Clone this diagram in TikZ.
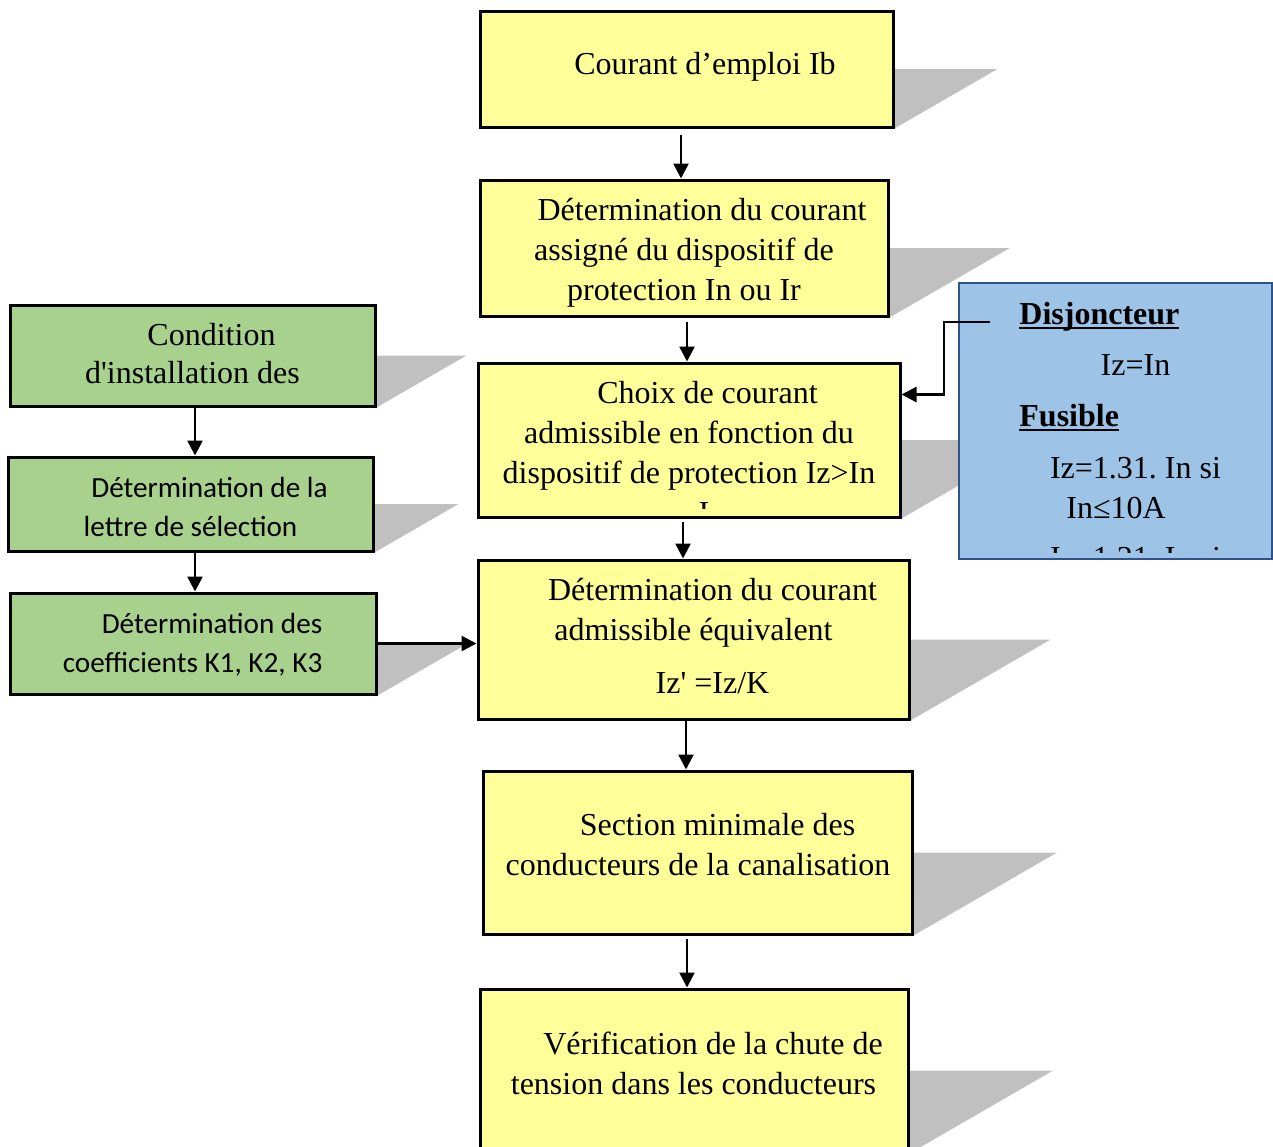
\documentclass[tikz,border=0pt]{standalone}
\usepackage{fontspec}
\setmainfont{Liberation Serif}
\newfontfamily\calibri{Carlito}
\usetikzlibrary{calc,backgrounds,arrows.meta}
\frenchspacing

\definecolor{boxyellow}{HTML}{FFFF99}
\definecolor{boxgreen}{HTML}{A9D18E}
\definecolor{boxblue}{HTML}{9DC3E6}
\definecolor{blueedge}{HTML}{2F528F}
\definecolor{shadowgray}{HTML}{C0C0C0}

\newcommand{\headul}[1]{\setbox0\hbox{#1}\rlap{\rule[-2.6pt]{\wd0}{1.1pt}}\box0}

\tikzset{
	flowbox/.style={draw, line width=1.5pt, inner sep=0pt},
	yellowbox/.style={flowbox, fill=boxyellow},
	greenbox/.style={flowbox, fill=boxgreen},
	txt/.style={align=center, inner sep=0pt, font=\fontsize{16pt}{20pt}\selectfont},
	sanstxt/.style={txt, font=\calibri\fontsize{14.6pt}{19.5pt}\selectfont},
	bluetxt/.style={inner sep=0pt, font=\fontsize{16pt}{20pt}\selectfont},
	arr/.style={line width=1.25pt, -{Triangle[length=7.5pt,width=7.5pt]}},
}

\begin{document}
\begin{tikzpicture}[x=0.5pt, y=-0.5pt]
		
		\useasboundingbox (0,0) rectangle (1273,1146);
		
		% Main chain
		\node [yellowbox,
		minimum width=206.5pt,
		minimum height=58pt] (b1) at (686.5,69) {};
		
		\node [yellowbox,
		minimum width=204pt,
		minimum height=68pt] (b2) at (684,248) {};
		
		\node [yellowbox,
		minimum width=211pt,
		minimum height=77pt] (b3) at (689,440) {};
		
		\node [yellowbox,
		minimum width=215.5pt,
		minimum height=79.5pt] (b4) at (693.5,639.5) {};
		
		\node [yellowbox,
		minimum width=214.5pt,
		minimum height=81.5pt] (b5) at (697.5,852.5) {};
		
		\node [yellowbox,
		minimum width=214pt,
		minimum height=81.5pt] (b6) at (694,1070.5) {};
		
		% Installation side
		\node [greenbox,
		minimum width=182.5pt,
		minimum height=50.5pt] (gA) at (192.5,355.5) {};
		
		\node [greenbox,
		minimum width=182.5pt,
		minimum height=47pt] (gB) at (190.5,504) {};
		
		\node [greenbox,
		minimum width=183pt,
		minimum height=50.5pt] (gC) at (193,643.5) {};
		
		% Protection device
		\node [draw=blueedge,
		line width=1.3pt,
		fill=boxblue,
		minimum width=156.5pt,
		minimum height=138pt] (dj) at (1115.5,421) {};
		
		% Shadows
		\begin{scope}[on background layer]
			\foreach \bx in {b1,b2,b3,b4,b5,b6,gA,gB,gC}
			\fill [shadowgray] let \p1=(\bx.east), \p2=(\bx.south east) in
			(\p1) -- (\x1+1.73*\y1-1.73*\y2, \y1) -- (\p2) -- cycle;
		\end{scope}
		
		% Texts
		\node [txt] (t1) at (705,66.5) {Courant d’emploi Ib};
		
		\node [txt] (t2) at (684,252.5) {\hspace*{18pt}Détermination du courant\\assigné du dispositif de\\protection In ou Ir};
		
		\begin{scope}
			\clip (b3.north west) rectangle ($(b3.south east)+(0,-10)$);
			\node [txt] (t3) at (689,452) {\hspace*{18.5pt}Choix de courant\\admissible en fonction du\\dispositif de protection Iz>In\\\hspace*{15pt}I};
		\end{scope}
		
		\node [txt] (t4) at (693.5,636) {\hspace*{19pt}Détermination du courant\\admissible équivalent\\[6.5pt]\hspace*{19pt}Iz\textquotesingle{} =Iz/K};
		
		\node [txt] (t5) at (698,845) {\hspace*{19.5pt}Section minimale des\\conducteurs de la canalisation};
		
		\node [txt] (t6) at (693.5,1063) {\hspace*{19.5pt}Vérification de la chute de\\tension dans les conducteurs};
		
		\node [txt, font=\fontsize{16pt}{19pt}\selectfont] (tA) at (192.5,353.5) {\hspace*{19pt}Condition\\d\textquotesingle installation des};
		
		\node [sanstxt] (tB) at (190.5,507) {\hspace*{19pt}Détermination de la\\lettre de sélection};
		
		\node [sanstxt] (tC) at (192.5,644.5) {\hspace*{19.5pt}Détermination des\\coefficients K1, K2, K3};
		
		\begin{scope}
			\clip (dj.north west) rectangle ($(dj.south east)+(0,-8)$);
			\node [bluetxt, anchor=base west] (d1) at (1019,324) {\headul{\textbf{Disjoncteur}}};
			\node [bluetxt, anchor=base] (d2) at (1135.5,375) {Iz=In};
			\node [bluetxt, anchor=base west] (d3) at (1019,426) {\headul{\textbf{Fusible}}};
			\node [bluetxt, anchor=base] (d4) at (1135.5,478) {Iz=1.31. In si};
			\node [bluetxt, anchor=base] (d5) at (1116,518) {In≤10A};
			\node [bluetxt, anchor=base] (d6) at (1135.5,568) {Iz=1.21. In si};
		\end{scope}
		
		% Arrows
		\draw [arr] ($(b1.south)+(-5.5,6)$) coordinate (s1) -- (s1 |- b2.north);
		\draw [arr] ($(b2.south)+(3,4)$) coordinate (s2) -- (s2 |- b3.north);
		\draw [arr] ($(b3.south)+(-6,3)$) coordinate (s3) -- (s3 |- b4.north);
		\draw [arr] ($(b4.south)+(-7.5,0)$) coordinate (s4) -- (s4 |- b5.north);
		\draw [arr] ($(b5.south)+(-10.5,3)$) coordinate (s5) -- (s5 |- b6.north);
		
		\draw [arr] ($(gA.south)+(2.5,0)$) coordinate (sA) -- (sA |- gB.north);
		\draw [arr] ($(gB.south)+(4.5,0)$) coordinate (sB) -- (sB |- gC.north);
		\draw [arr] (gC.east) -- (gC.east -| b4.west);
		
		\coordinate (djin) at (990,322);
		\draw [arr] (djin) -- ++(-46,0) |- ($(b3.north east)+(0,33)$);
		
	\end{tikzpicture}
\end{document}
